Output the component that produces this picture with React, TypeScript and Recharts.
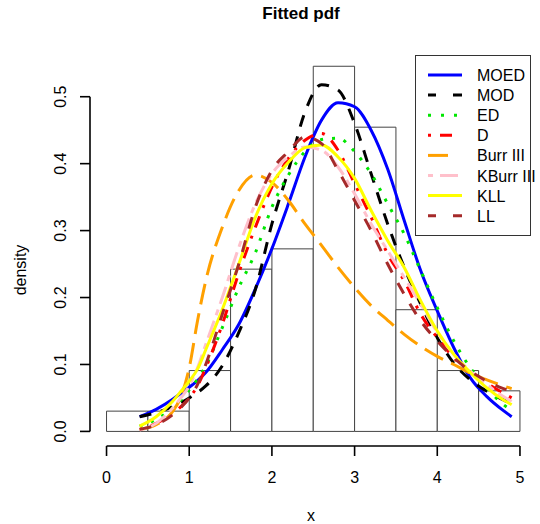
import React from 'react';
import {
  ComposedChart,
  Line,
  XAxis,
  YAxis,
  ReferenceArea,
  ReferenceLine,
  Legend,
  Customized,
} from 'recharts';

// ---------- data ----------
const binLeft = [0, 0.5, 1, 1.5, 2, 2.5, 3, 3.5, 4, 4.5];
const binRight = [0.5, 1, 1.5, 2, 2.5, 3, 3.5, 4, 4.5, 5];
const binDensity = [0.0303, 0.0303, 0.0909, 0.2424, 0.2727, 0.5455, 0.4545, 0.1818, 0.0909, 0.0606];

const xs = [0.4, 0.6, 0.8, 0.9, 1.0, 1.1, 1.2, 1.4, 1.6, 1.8, 2.0, 2.2, 2.4, 2.6, 2.8, 3.0, 3.2, 3.4, 3.6, 3.8, 4.0, 4.2, 4.4, 4.6, 4.8, 4.9];
const moed = [0.022, 0.033, 0.048, 0.057, 0.066, 0.076, 0.088, 0.122, 0.16, 0.213, 0.273, 0.34, 0.41, 0.465, 0.491, 0.485, 0.45, 0.392, 0.315, 0.24, 0.18, 0.125, 0.08, 0.052, 0.031, 0.022];
const mod = [0.022, 0.028, 0.037, 0.043, 0.05, 0.058, 0.068, 0.098, 0.148, 0.212, 0.31, 0.39, 0.477, 0.518, 0.51, 0.46, 0.385, 0.31, 0.245, 0.19, 0.14, 0.102, 0.077, 0.06, 0.047, 0.041];
const ed = [0.008, 0.018, 0.035, 0.047, 0.062, 0.078, 0.098, 0.155, 0.215, 0.267, 0.335, 0.383, 0.418, 0.436, 0.438, 0.418, 0.385, 0.34, 0.295, 0.24, 0.185, 0.135, 0.095, 0.065, 0.04, 0.032];
const dd = [0.003, 0.012, 0.027, 0.037, 0.05, 0.068, 0.095, 0.16, 0.237, 0.305, 0.365, 0.408, 0.435, 0.445, 0.42, 0.37, 0.32, 0.265, 0.225, 0.175, 0.14, 0.11, 0.088, 0.072, 0.057, 0.05];
const burr = [0.003, 0.01, 0.03, 0.052, 0.095, 0.165, 0.225, 0.305, 0.36, 0.383, 0.372, 0.345, 0.31, 0.278, 0.245, 0.215, 0.188, 0.166, 0.145, 0.127, 0.112, 0.1, 0.087, 0.077, 0.068, 0.064];
const kburr = [0.002, 0.012, 0.035, 0.05, 0.068, 0.095, 0.13, 0.2, 0.275, 0.34, 0.385, 0.41, 0.425, 0.42, 0.395, 0.355, 0.31, 0.27, 0.23, 0.19, 0.148, 0.115, 0.09, 0.07, 0.052, 0.045];
const kll = [0.008, 0.022, 0.045, 0.06, 0.075, 0.093, 0.122, 0.182, 0.25, 0.32, 0.37, 0.402, 0.424, 0.428, 0.41, 0.378, 0.33, 0.285, 0.245, 0.195, 0.15, 0.115, 0.088, 0.065, 0.047, 0.04];
const ll = [0.003, 0.01, 0.025, 0.036, 0.05, 0.07, 0.1, 0.175, 0.25, 0.335, 0.39, 0.418, 0.44, 0.43, 0.39, 0.345, 0.3, 0.25, 0.205, 0.165, 0.135, 0.11, 0.09, 0.075, 0.064, 0.06];

const seriesNames = ['MOED', 'MOD', 'ED', 'D', 'Burr III', 'KBurr III', 'KLL', 'LL'];
const seriesValues = [moed, mod, ed, dd, burr, kburr, kll, ll];

const xTicks = [0, 1, 2, 3, 4, 5];
const yTicks = [0, 0.1, 0.2, 0.3, 0.4, 0.5];

// ---------- styles ----------
const FONT = '"Liberation Sans", Arial, Helvetica, sans-serif';
const styles: Record<string, { color: string; dash?: string; legendDash?: string }> = {
  MOED: { color: '#0000FF' },
  MOD: { color: '#000000', dash: '12 10', legendDash: '8 17 9' },
  ED: { color: '#00E600', dash: '3 9', legendDash: '3 10' },
  D: { color: '#FF0000', dash: '3 9 12 9', legendDash: '3 9 12 20' },
  'Burr III': { color: '#FFA000', dash: '21 9', legendDash: '20 20' },
  'KBurr III': { color: '#FFC0CB', dash: '6 6 18 6', legendDash: '5 7 18 10' },
  KLL: { color: '#FFFF00' },
  LL: { color: '#A52A2A', dash: '12 12', legendDash: '8 17 9' },
};

const curveData = xs.map((x, i) => {
  const row: Record<string, number> = { x };
  seriesNames.forEach((n, k) => {
    row[n] = seriesValues[k][i];
  });
  return row;
});

const XTick = (props: any) => (
  <text x={props.x} y={483} textAnchor="middle" fontSize={16} fontFamily={FONT} fill="#000">
    {String(props.payload.value)}
  </text>
);

const YTick = (props: any) => {
  const y = props.y;
  return (
    <text
      x={66}
      y={y}
      transform={`rotate(-90 66 ${y})`}
      textAnchor="middle"
      fontSize={16}
      fontFamily={FONT}
      fill="#000"
    >
      {Number(props.payload.value).toFixed(1)}
    </text>
  );
};

const LegendBox = () => (
  <svg width={125} height={182} style={{ display: 'block', overflow: 'visible' }}>
    <rect x={0.5} y={0.5} width={115} height={180} fill="#fff" stroke="#333" strokeWidth={1} />
    {seriesNames.map((n, i) => {
      const cy = 20 + i * 20.1;
      const st = styles[n];
      return (
        <g key={n}>
          <line
            x1={13}
            x2={47}
            y1={cy}
            y2={cy}
            stroke={st.color}
            strokeWidth={3}
            strokeDasharray={st.legendDash}
          />
          <text x={62} y={cy + 6} fontSize={16} fontFamily={FONT} fill="#000">
            {n}
          </text>
        </g>
      );
    })}
  </svg>
);

const Labels = () => (
  <g>
    <text x={301} y={19} textAnchor="middle" fontSize={17} fontWeight="bold" fontFamily={FONT} fill="#000">
      Fitted pdf
    </text>
    <text x={311} y={521} textAnchor="middle" fontSize={16} fontFamily={FONT} fill="#000">
      x
    </text>
    <text
      x={26}
      y={270}
      transform="rotate(-90 26 270)"
      textAnchor="middle"
      fontSize={16}
      fontFamily={FONT}
      fill="#000"
    >
      density
    </text>
  </g>
);

export default function App() {
  return (
    <div style={{ position: 'absolute', left: 0, top: 0, background: '#fff' }}>
      <ComposedChart
        width={540}
        height={524}
        data={curveData}
        margin={{ top: 52, right: 3.5, bottom: 0, left: 0 }}
      >
        <XAxis
          type="number"
          dataKey="x"
          domain={[-0.2, 5.2]}
          allowDataOverflow
          ticks={xTicks}
          interval={0}
          axisLine={false}
          tickLine={{ stroke: '#000', strokeWidth: 1.6 }}
          tickSize={10}
          height={78}
          tick={XTick}
        />
        <YAxis
          type="number"
          domain={[-0.0218, 0.5668]}
          allowDataOverflow
          ticks={yTicks}
          interval={0}
          width={90}
          axisLine={false}
          tickLine={{ stroke: '#000', strokeWidth: 1.6 }}
          tickSize={10}
          tick={YTick}
        />
        {binLeft.map((b, i) => (
          <ReferenceArea
            key={'bin' + i}
            x1={b}
            x2={binRight[i]}
            y1={0}
            y2={binDensity[i]}
            fill="#ffffff"
            fillOpacity={1}
            stroke="#444"
            strokeWidth={1}
            ifOverflow="visible"
          />
        ))}
        <ReferenceLine
          segment={[
            { x: xTicks[0], y: -0.0218 },
            { x: xTicks[xTicks.length - 1], y: -0.0218 },
          ]}
          stroke="#000"
          strokeWidth={1.6}
          ifOverflow="visible"
        />
        <ReferenceLine
          segment={[
            { x: -0.2, y: yTicks[0] },
            { x: -0.2, y: yTicks[yTicks.length - 1] },
          ]}
          stroke="#000"
          strokeWidth={1.6}
          ifOverflow="visible"
        />
        {seriesNames.map((n) => (
          <Line
            key={n}
            type="monotone"
            dataKey={n}
            name={n}
            stroke={styles[n].color}
            strokeWidth={3}
            strokeDasharray={styles[n].dash}
            dot={false}
            activeDot={false}
            isAnimationActive={false}
            legendType="line"
          />
        ))}
        <Legend
          layout="vertical"
          align="center"
          verticalAlign="middle"
          content={LegendBox}
          wrapperStyle={{ position: 'absolute', left: 415, top: 55, width: 125, height: 182 }}
        />
        <Customized component={Labels} />
      </ComposedChart>
    </div>
  );
}
